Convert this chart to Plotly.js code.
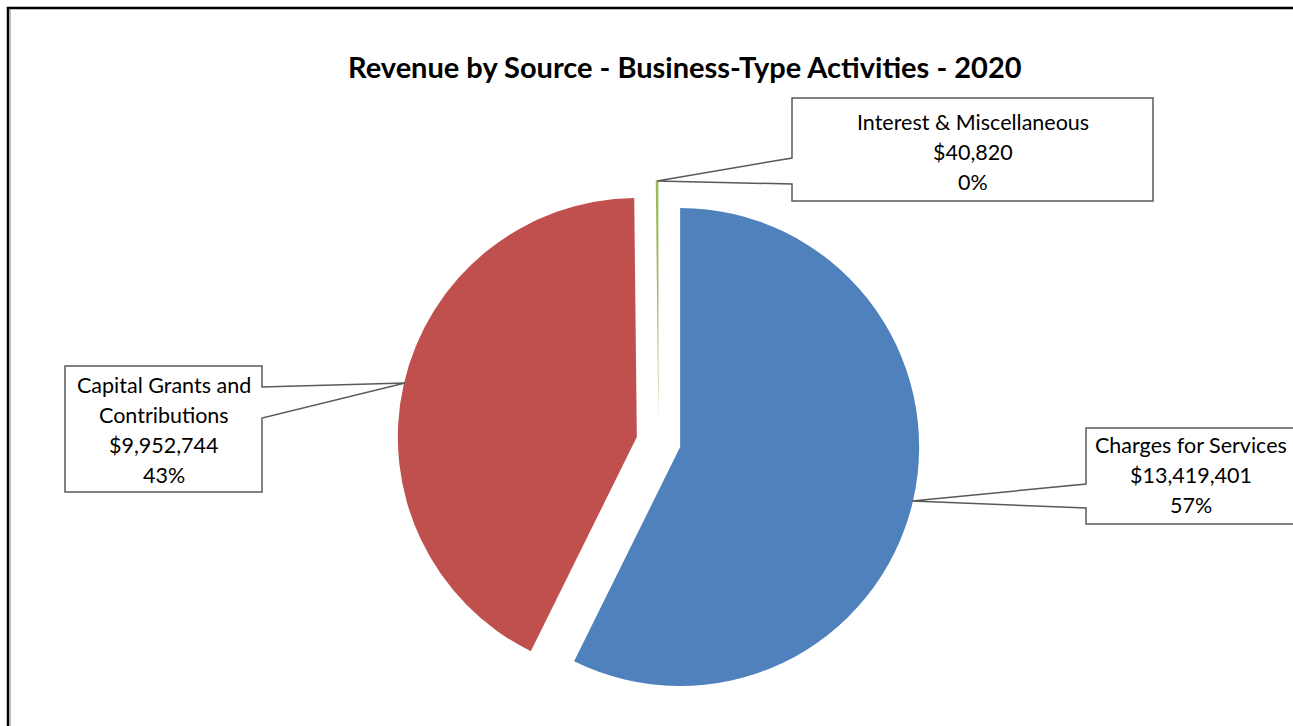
<!DOCTYPE html>
<html>
<head>
<meta charset="utf-8">
<script src="https://cdn.plot.ly/plotly-3.0.1.min.js"></script>
<style>html,body{margin:0;padding:0;background:#fff;}#chart{width:1293px;height:726px;}</style>
</head>
<body>
<div id="chart"></div>
<script>
// ---- data ----
const categories = ["Charges for Services", "Capital Grants and Contributions", "Interest & Miscellaneous"];
const labelLines = [["Charges for Services"], ["Capital Grants and", "Contributions"], ["Interest & Miscellaneous"]];
const values = [13419401, 9952744, 40820];
const colors = ["#4F81BD", "#C0504D", "#9BBB59"];
const titleText = "Revenue by Source - Business-Type Activities - 2020";

// ---- layout helpers (pixel -> paper) ----
const W = 1293, H = 726;
const px = x => x / W;
const py = y => 1 - y / H;
const pt = (x, y) => px(x) + " " + py(y);

// pie geometry
const R = 239, PULL = 0.093, CX = 658.5, CY = 442;
const box = 2 * R * (1 + PULL);
const domain = {
  x: [px(CX - box / 2), px(CX + box / 2)],
  y: [py(CY + box / 2), py(CY - box / 2)]
};

const total = values.reduce((a, b) => a + b, 0);
const fmtMoney = v => "$" + v.toLocaleString("en-US");
const pct = v => Math.round(v / total * 100) + "%";

const FONT = "Lato, 'Open Sans', sans-serif";
const LBL = 21.5;

// label box layout: [centerX, firstLineY, lineSpacing]
const labelPos = [[1191, 445, 30], [164, 385, 30], [972.5, 122, 30]];

const annotations = [];
labelLines.forEach((lines, i) => {
  const all = lines.concat([fmtMoney(values[i]), pct(values[i])]);
  const [lx, ly, sp] = labelPos[i];
  all.forEach((t, k) => {
    annotations.push({
      xref: "paper", yref: "paper", x: px(lx), y: py(ly + k * sp),
      xanchor: "center", yanchor: "middle", showarrow: false,
      text: t, font: {family: FONT, size: LBL, color: "#000"}
    });
  });
});
annotations.push({
  xref: "paper", yref: "paper", x: px(685), y: py(66),
  xanchor: "center", yanchor: "middle", showarrow: false,
  text: "<b>" + titleText + "</b>", font: {family: FONT, size: 29, color: "#000"}
});

const calloutLine = {color: "#595959", width: 1.5};
const shapes = [
  // chart frame
  {type: "path", xref: "paper", yref: "paper", path: "M " + pt(8, 740) + " L " + pt(8, 8) + " L " + pt(1300, 8),
   line: {color: "#000", width: 2.5}},
  {type: "line", xref: "paper", yref: "paper", x0: px(10.2), x1: px(10.2), y0: py(9.5), y1: py(740),
   line: {color: "#9a9a9a", width: 1}},
  // Charges callout
  {type: "path", xref: "paper", yref: "paper",
   path: "M " + pt(1310, 428) + " L " + pt(1086, 428) + " L " + pt(1086, 484) + " L " + pt(912, 501) +
         " L " + pt(1086, 508) + " L " + pt(1086, 524) + " L " + pt(1310, 524),
   line: calloutLine, fillcolor: "rgba(0,0,0,0)"},
  // Capital callout
  {type: "path", xref: "paper", yref: "paper",
   path: "M " + pt(65, 366) + " L " + pt(262, 366) + " L " + pt(262, 387) + " L " + pt(405, 383) +
         " L " + pt(262, 418) + " L " + pt(262, 492) + " L " + pt(65, 492) + " Z",
   line: calloutLine, fillcolor: "rgba(0,0,0,0)"},
  // Interest callout
  {type: "path", xref: "paper", yref: "paper",
   path: "M " + pt(792, 98) + " L " + pt(1153, 98) + " L " + pt(1153, 201) + " L " + pt(792, 201) +
         " L " + pt(792, 184) + " L " + pt(657, 181) + " L " + pt(792, 158) + " Z",
   line: calloutLine, fillcolor: "rgba(0,0,0,0)"}
];

const trace = {
  type: "pie",
  labels: categories,
  values: values,
  sort: false,
  direction: "clockwise",
  rotation: 0,
  pull: [PULL, PULL, PULL],
  marker: {colors: colors, line: {width: 0}},
  textinfo: "none",
  hoverinfo: "label+value+percent",
  domain: domain,
  showlegend: false
};

Plotly.newPlot("chart", [trace], {
  width: W, height: H,
  margin: {l: 0, r: 0, t: 0, b: 0},
  paper_bgcolor: "#fff",
  showlegend: false,
  annotations: annotations,
  shapes: shapes
}, {displayModeBar: false, staticPlot: true});
</script>
</body>
</html>
